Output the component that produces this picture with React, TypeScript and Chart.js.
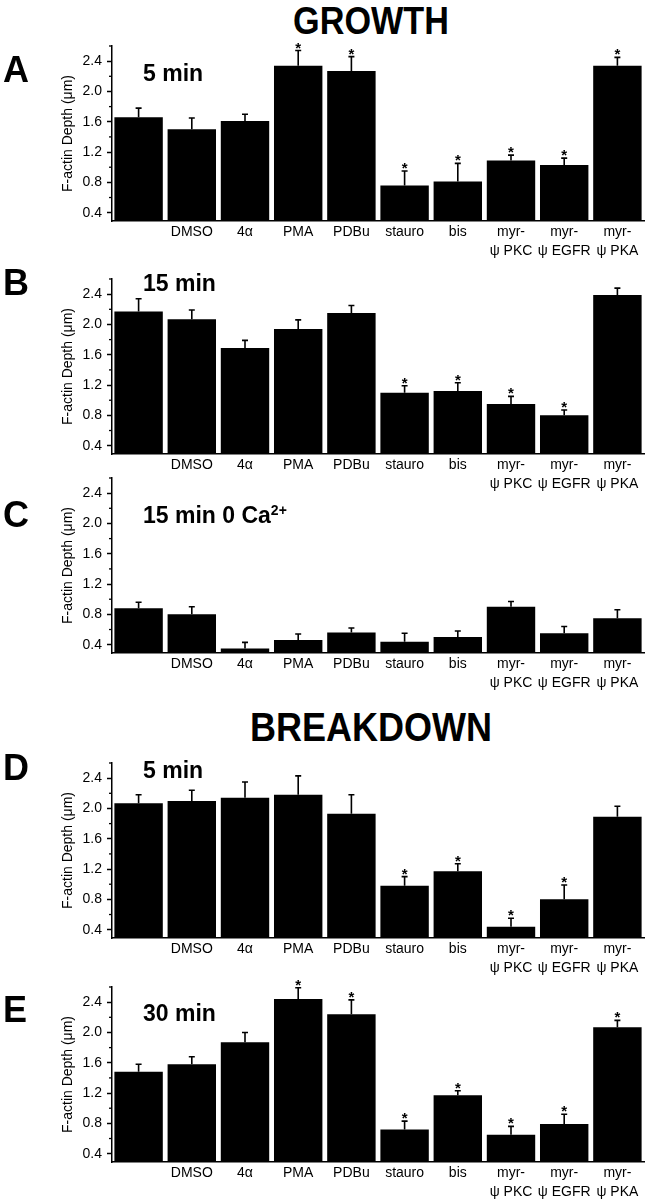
import React, { useEffect, useRef } from 'react';
import { Chart, registerables } from 'chart.js';

Chart.register(...registerables);

const FONT = "'Liberation Sans', Arial, Helvetica, sans-serif";

// ---------- data ----------
const categories: (string | string[])[] = [
  '', 'DMSO', '4α', 'PMA', 'PDBu', 'stauro', 'bis',
  ['myr-', 'ψ PKC'], ['myr-', 'ψ EGFR'], ['myr-', 'ψ PKA'],
];

const yMajorTicks = [0.4, 0.8, 1.2, 1.6, 2.0, 2.4];
const yMinorTicks = [0.6, 1.0, 1.4, 1.8, 2.2, 2.6];
const yMin = 0.29;
const yMax = 2.6;

// A: growth 5 min
const growth5Values = [1.66, 1.50, 1.61, 2.34, 2.27, 0.76, 0.81, 1.09, 1.03, 2.34];
const growth5Errors = [0.12, 0.15, 0.09, 0.20, 0.19, 0.19, 0.24, 0.07, 0.09, 0.11];
const growth5Stars = [false, false, false, true, true, true, true, true, true, true];

// B: growth 15 min
const growth15Values = [2.17, 2.07, 1.69, 1.94, 2.15, 1.10, 1.12, 0.95, 0.80, 2.39];
const growth15Errors = [0.17, 0.12, 0.10, 0.12, 0.10, 0.09, 0.11, 0.10, 0.07, 0.09];
const growth15Stars = [false, false, false, false, false, true, true, true, true, false];

// C: growth 15 min 0 Ca2+
const growthCaValues = [0.88, 0.80, 0.35, 0.46, 0.56, 0.44, 0.50, 0.90, 0.55, 0.75];
const growthCaErrors = [0.08, 0.10, 0.08, 0.08, 0.06, 0.11, 0.08, 0.07, 0.09, 0.11];
const growthCaStars = [false, false, false, false, false, false, false, false, false, false];

// D: breakdown 5 min
const breakdown5Values = [2.07, 2.10, 2.14, 2.18, 1.93, 0.98, 1.17, 0.44, 0.80, 1.89];
const breakdown5Errors = [0.11, 0.14, 0.21, 0.25, 0.25, 0.12, 0.10, 0.11, 0.19, 0.14];
const breakdown5Stars = [false, false, false, false, false, true, true, true, true, false];

// E: breakdown 30 min
const breakdown30Values = [1.48, 1.58, 1.87, 2.44, 2.24, 0.72, 1.17, 0.65, 0.79, 2.07];
const breakdown30Errors = [0.10, 0.10, 0.13, 0.15, 0.19, 0.11, 0.06, 0.11, 0.13, 0.09];
const breakdown30Stars = [false, false, false, true, true, true, true, true, true, true];

// ---------- layout ----------
const PAD_TOP = 32;
const PLOT_H = 175;
const X_H = 46;
const AXIS_X = 112;
const RIGHT_PAD = 27;

type PanelProps = {
  values: number[];
  errors: number[];
  stars: boolean[];
  axisTop: number;
};

function Panel({ values, errors, stars, axisTop }: PanelProps) {
  const ref = useRef<HTMLCanvasElement>(null);
  useEffect(() => {
    const errPlugin = {
      id: 'errbars',
      afterDatasetsDraw(chart: any) {
        const { ctx } = chart;
        const ys = chart.scales.y;
        const meta = chart.getDatasetMeta(0);
        ctx.save();
        ctx.strokeStyle = '#000';
        ctx.fillStyle = '#000';
        ctx.lineWidth = 1.6;
        meta.data.forEach((bar: any, i: number) => {
          const x = bar.x;
          const y0 = ys.getPixelForValue(values[i]);
          const y1 = ys.getPixelForValue(values[i] + errors[i]);
          ctx.beginPath();
          ctx.moveTo(x, y0);
          ctx.lineTo(x, y1);
          ctx.moveTo(x - 3, y1);
          ctx.lineTo(x + 3, y1);
          ctx.stroke();
          if (stars[i]) {
            ctx.font = `bold 15px ${FONT}`;
            ctx.textAlign = 'center';
            ctx.textBaseline = 'alphabetic';
            ctx.fillText('*', x, y1 + 2);
          }
        });
        const xa = chart.chartArea.left;
        ctx.lineWidth = 1.3;
        yMinorTicks.forEach((v) => {
          const y = ys.getPixelForValue(v);
          ctx.beginPath();
          ctx.moveTo(xa - 3, y);
          ctx.lineTo(xa, y);
          ctx.stroke();
        });
        ctx.restore();
      },
    };

    const chart = new Chart(ref.current!, {
      type: 'bar',
      data: {
        labels: categories as any,
        datasets: [
          {
            data: values,
            backgroundColor: '#000',
            borderWidth: 0,
            barPercentage: 0.91,
            categoryPercentage: 1,
          },
        ],
      },
      options: {
        responsive: false,
        animation: false,
        events: [],
        layout: { padding: { top: PAD_TOP, right: RIGHT_PAD, left: 0, bottom: 0 } },
        plugins: { legend: { display: false }, tooltip: { enabled: false } },
        scales: {
          x: {
            grid: { display: false, drawTicks: false },
            border: { display: true, color: '#000', width: 1.5 },
            ticks: {
              color: '#000',
              font: { family: FONT, size: 14, lineHeight: 1.35 },
              padding: 2,
              maxRotation: 0,
              minRotation: 0,
              autoSkip: false,
            },
            afterFit: (s: any) => {
              s.height = X_H;
            },
          },
          y: {
            min: yMin,
            max: yMax,
            afterBuildTicks: (s: any) => {
              s.ticks = yMajorTicks.map((v) => ({ value: v }));
            },
            grid: {
              display: true,
              drawOnChartArea: false,
              drawTicks: true,
              tickLength: 5,
              tickColor: '#000',
              tickWidth: 1.5,
            },
            border: { display: true, color: '#000', width: 1.5 },
            ticks: {
              color: '#000',
              padding: 5,
              font: { family: FONT, size: 14 },
              callback: (v: any) => Number(v).toFixed(1),
            },
            title: {
              display: true,
              text: 'F-actin Depth (μm)',
              color: '#000',
              font: { family: FONT, size: 14 },
              padding: { top: 60, bottom: 0 },
            },
            afterFit: (s: any) => {
              s.width = AXIS_X;
            },
          },
        },
      },
      plugins: [errPlugin],
    });
    return () => chart.destroy();
  }, []);
  return (
    <canvas
      ref={ref}
      width={671}
      height={PAD_TOP + PLOT_H + X_H}
      style={{ position: 'absolute', left: 0, top: axisTop - PAD_TOP }}
    />
  );
}

const headStyle: React.CSSProperties = {
  position: 'absolute',
  fontFamily: FONT,
  fontWeight: 'bold',
  lineHeight: 1,
  whiteSpace: 'nowrap',
  color: '#000',
  margin: 0,
};

function Heading({ text, top, size }: { text: string; top: number; size: number }) {
  return (
    <div
      style={{
        ...headStyle,
        left: 371,
        top,
        fontSize: size,
        transform: 'translateX(-50%) scaleX(0.9)',
      }}
    >
      {text}
    </div>
  );
}

function Letter({ text, top }: { text: string; top: number }) {
  return <div style={{ ...headStyle, left: 3, top, fontSize: 36 }}>{text}</div>;
}

function Sub({ children, top }: { children: React.ReactNode; top: number }) {
  return <div style={{ ...headStyle, left: 143, top, fontSize: 23 }}>{children}</div>;
}

export default function App() {
  return (
    <div
      style={{
        position: 'absolute',
        left: 0,
        top: 0,
        width: 671,
        height: 1199,
        background: '#fff',
        overflow: 'hidden',
      }}
    >
      <Heading text="GROWTH" top={2} size={38} />
      <Heading text="BREAKDOWN" top={707} size={40} />

      <Panel values={growth5Values} errors={growth5Errors} stars={growth5Stars} axisTop={46} />
      <Panel values={growth15Values} errors={growth15Errors} stars={growth15Stars} axisTop={279} />
      <Panel values={growthCaValues} errors={growthCaErrors} stars={growthCaStars} axisTop={478} />
      <Panel values={breakdown5Values} errors={breakdown5Errors} stars={breakdown5Stars} axisTop={763} />
      <Panel values={breakdown30Values} errors={breakdown30Errors} stars={breakdown30Stars} axisTop={987} />

      <Letter text="A" top={52} />
      <Letter text="B" top={265} />
      <Letter text="C" top={497} />
      <Letter text="D" top={750} />
      <Letter text="E" top={992} />

      <Sub top={62}>5 min</Sub>
      <Sub top={272}>15 min</Sub>
      <Sub top={504}>
        15 min 0 Ca<sup style={{ fontSize: 14, verticalAlign: 'top', position: 'relative', top: -1 }}>2+</sup>
      </Sub>
      <Sub top={759}>5 min</Sub>
      <Sub top={1002}>30 min</Sub>
    </div>
  );
}
